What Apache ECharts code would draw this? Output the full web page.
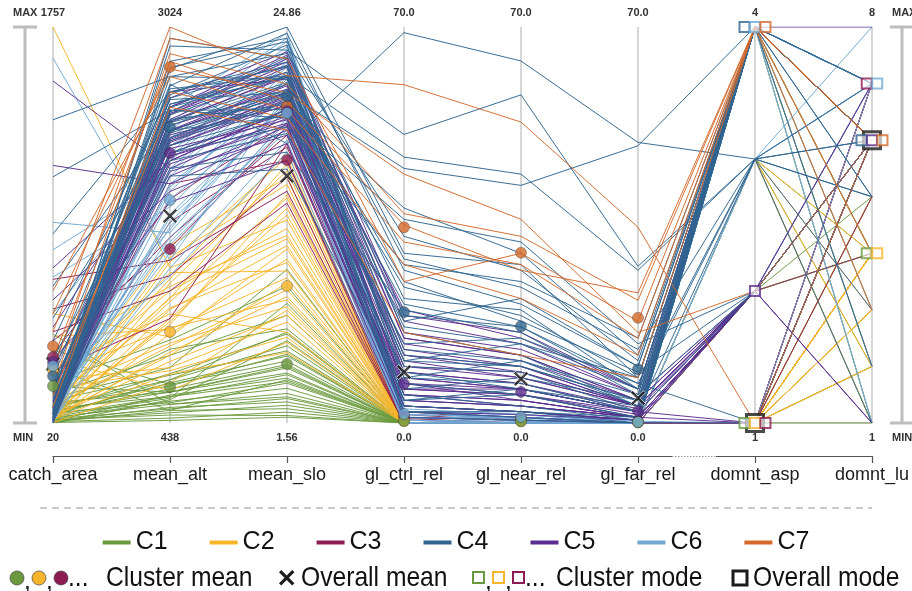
<!DOCTYPE html>
<html><head><meta charset="utf-8">
<script src="https://cdn.jsdelivr.net/npm/echarts@6/dist/echarts.min.js"></script>
<style>html,body{margin:0;padding:0;background:#fff}#c{width:912px;height:591px}</style>
</head><body><div id="c"></div>
<script>
// ---------- axes ----------
const dims = ['catch_area','mean_alt','mean_slo','gl_ctrl_rel','gl_near_rel','gl_far_rel','domnt_asp','domnt_lu'];
const axisMin = [20, 438, 1.56, 0, 0, 0, 1, 1];
const axisMax = [1757, 3024, 24.86, 70, 70, 70, 4, 8];
const maxLabels = ['1757','3024','24.86','70.0','70.0','70.0','4','8'];
const minLabels = ['20','438','1.56','0.0','0.0','0.0','1','1'];

// ---------- clusters ----------
const clusters = ['C1','C2','C3','C4','C5','C6','C7'];
const colors = ['#6b9a3e','#f7b52b','#8e1b52','#2f6590','#5b2d8f','#70aad4','#d4692b'];

// [catch_area, mean_alt, mean_slo, gl_ctrl_rel, gl_near_rel, gl_far_rel, domnt_asp, domnt_lu]
const c1Lines = [
 [45,560,3.1,0,0,0,1,4],[30,620,4.2,0,0,0,1,4],[60,700,5.5,0,0,0,1,2],[25,520,2.4,0,0,0,1,1],
 [80,760,6.8,0,0,0,4,4],[110,640,4.8,0,0,0,1,4],[40,580,3.6,0,0,0,2,5],[150,880,7.9,0,0,0,1,6],
 [35,490,2.0,0,0,0,1,4],[70,660,5.0,0,0,0,3,4],[200,980,9.6,0,0,0,4,3],[55,610,4.0,0,0,0,1,1],
 [90,720,6.1,0,0,0,1,4],[130,800,10.6,0,0,0,3,2],[22,455,1.9,0,0,0,1,3],[340,690,5.2,0,0,0,4,2],
 [75,640,4.5,0,0,0,1,4],[410,560,3.3,0,0,0,2,4],[48,600,8.6,0,0,0,1,5],[120,750,5.8,0,0,0,4,1],
 [28,540,2.8,0,0,0,1,4],[95,920,7.1,0,0,0,1,6],[260,520,4.1,0,0,0,1,4],[20,590,6.4,0,0,0,4,4],
 [32,505,2.6,0,0,0,1,4],[65,570,3.9,0,0,0,2,4],[100,680,5.6,0,0,0,1,2],[38,530,3.0,0,0,0,3,1],
 [85,610,4.4,0,0,0,1,4],[52,720,6.9,0,0,0,1,3],[180,640,4.9,0,0,0,4,4],[26,470,2.2,0,0,0,1,5]
];
const c2Lines = [
 [1757,1450,13.5,0,0,0,1,4],[60,1100,14.2,0,0,0,1,4],[40,900,9.0,0,0,0,4,2],[120,1250,16.8,0,0,0,1,4],
 [210,800,7.5,0,0,0,1,3],[30,1020,11.2,0,0,0,3,4],[90,1380,17.5,0,0,0,1,1],[300,650,6.3,0,0,0,2,4],
 [25,1180,12.0,0,0,0,1,4],[150,960,8.4,0,0,0,4,4],[70,1520,15.6,0,0,0,1,2],[400,1050,10.1,0,0,0,3,3],
 [35,760,5.7,0,0,0,1,4],[180,1300,13.0,0,0,0,1,6],[50,880,9.8,0,0,0,2,4],[260,1150,6.9,0,0,0,4,1],
 [110,1600,16.0,0,0,0,1,4],[45,840,7.9,0,0,0,3,2],[500,1000,11.8,0,0,0,1,4],[80,1230,14.8,0,0,0,1,3],
 [22,700,8.2,0,0,0,1,4],[140,1420,10.5,0,0,0,4,4],[330,1330,12.6,0,0,0,1,5],[65,1080,15.0,0,0,0,4,4],
 [42,1120,13.8,0,0,0,1,4],[95,940,9.4,0,0,0,1,2],[28,1350,16.4,0,0,0,4,4],[230,1060,8.8,0,0,0,1,4],
 [58,1260,12.4,0,0,0,3,1],[170,780,6.6,0,0,0,1,4],[38,1490,17.2,0,0,0,1,3],[125,1190,11.0,0,0,0,2,4]
];
const c3Lines = [
 [300,1650,18.5,0.5,0,0,1,7],[520,1400,16.0,0,0,0,1,7],[180,1900,19.2,1.5,0.3,0,4,7],[420,1300,14.5,0,0,0,1,6],
 [90,1750,17.8,2.0,0.5,0,1,7],[650,1500,15.2,0,0,0,2,7],[250,1120,18.0,0.8,0,0,1,5],[60,2000,17.0,0,0,0,4,7],
 [380,1580,19.0,0,0,0,1,7]
];
const c4Lines = [
 [150,2650,18.0,69,64,49.6,3,6],[90,2900,23.5,51,58,27.7,3,5],[220,2550,21.0,45,42,49,4,6],[60,2450,22.0,47,44,27,3,5],
 [300,2300,20.5,38,30,12,4,6],[45,2750,24.86,30,28,8,4,6],[120,2200,19.0,28,25,15,4,6],[80,2380,21.5,25,18,9,2,6],
 [850,2600,22.8,22,20,6,4,7],[35,2100,17.5,20,16,5,4,6],[180,2480,20.0,18,22,10,4,6],[60,2950,23.0,16,12,3,4,6],
 [260,2250,19.8,14,15,7,1,6],[40,2520,22.2,12,10,4,4,6],[480,2350,20.8,11,14,6,3,1],[100,2700,21.8,10,9,2,4,6],
 [30,2150,18.6,9,6,3,4,5],[620,2420,20.3,8,11,5,2,6],[70,2580,23.8,7,5,1,4,6],[140,2050,16.5,6,8,4,4,6],
 [25,2300,21.2,5,3,0.5,4,6],[1100,2480,19.5,4,6,2,3,3],[55,2800,24.2,3,2,1,4,6],[200,2200,20.0,2,1,0,1,6],
 [380,2600,22.5,1,0.5,0,4,6],[65,2400,21.0,24,19,8,4,2],[1350,2700,23.3,33,27,11,4,6],[170,2350,19.6,36,32,14,2,6],
 [95,2500,22.0,19,17,7,3,7],[42,2640,24.5,27,21,10,4,6],
 [48,2560,22.6,13,11,3,4,6],[130,2330,20.9,21,17,6,4,6],[36,2470,23.1,8,7,2,2,6],[270,2620,22.0,17,14,8,4,6],
 [58,2280,20.4,4,5,1,4,5],[85,2760,24.0,29,24,13,3,6],[22,2410,21.6,2,2,0,4,6],[160,2520,21.9,11,10,4,4,7]
];
const c5Lines = [
 [1520,2100,19.5,5,4,1,2,6],[1150,2000,18.8,3,2,0.5,4,6],[60,2300,21.0,12,10,3,2,6],[30,2250,20.5,8,6,2,4,6],
 [150,2400,22.0,15,12,4,2,1],[45,2050,19.0,6,5,1.5,4,8],[250,2350,21.5,10,8,3,2,6],[80,2150,20.0,4,3,1,2,6],
 [35,2500,22.8,18,14,5,4,6],[560,1950,18.0,2,1.5,0.5,2,4],[110,2280,20.8,7,5,2,4,6],[25,2450,23.0,9,7,2.5,2,6],
 [70,2600,21.8,20,15,6,4,6],[190,2200,19.8,3,2,0.5,2,6],[40,2380,21.2,11,8,3,2,6],[320,1880,17.0,1,0.5,0,1,6],
 [55,2320,20.2,5,4,1,4,6],[95,2180,19.2,14,11,4,2,6],[28,2420,22.5,6,6,2,2,6],[130,2080,18.5,4,3,1,4,6],
 [700,2150,20.0,2,1,0,2,6],[65,2500,23.2,16,13,5,2,6],[50,2270,20.6,8,6,2,1,6],[20,2350,21.0,10,9,3,2,6],
 [440,2230,19.4,7,4,1,2,7],[85,2460,22.2,13,10,3,4,6],
 [33,2290,20.7,9,7,2,2,6],[75,2410,21.9,12,9,3,4,6],[24,2180,19.6,5,3,1,2,6],[115,2340,21.4,7,6,2,2,6],
 [48,2470,22.6,15,12,4,4,6],[62,2130,19.1,3,2,0.5,2,1],[37,2560,23.4,19,16,6,4,6],[88,2250,20.3,6,5,1,1,6]
];
const c6Lines = [
 [1620,1500,21.0,0,0,0,4,7],[780,2050,22.0,2,1,0,4,7],[60,1800,20.5,1,0.5,0,4,7],[35,2200,23.5,3,2,0.5,4,1],
 [120,1650,19.0,0,0,0,3,7],[45,1950,21.8,1.5,1,0,4,7],[200,1400,17.5,0,0,0,1,1],[30,2400,24.0,4,3,1,4,7],
 [80,1750,20.0,0.5,0,0,4,3],[150,2100,22.5,2,1.5,0,4,7],[25,1600,18.8,0,0,0,3,8],[660,1850,21.2,1,0.5,0,4,7],
 [55,2300,23.0,3,2,0.5,2,7],[90,1550,19.5,0,0,0,4,6],[40,2000,20.8,1,1,0,4,7],[300,1700,22.0,2.5,1.5,0.3,1,7],
 [70,2250,21.5,0,0,0,4,2],[22,1900,20.2,1.5,1,0,4,7],[110,2500,24.5,2,1,0,3,7],[38,1450,18.2,0,0,0,4,7],
 [900,1680,20.6,0.5,0.3,0,4,7],[500,2150,22.8,1,0.8,0,4,4],
 [28,2080,22.2,1,0.5,0,4,7],[66,1780,20.0,0,0,0,4,7],[42,2350,23.7,2,1.5,0,4,6],[120,1620,19.3,0,0,0,3,7],
 [34,1980,21.0,1,0.5,0,4,7],[75,2450,24.2,3,2,0.5,4,1],[48,1720,20.4,0.5,0,0,2,7],[20,2180,22.6,1.5,1,0,4,7]
];
const c7Lines = [
 [420,3024,22.0,59.8,53.2,34.6,1,6],[180,2850,21.5,37,33,21.7,4,6],[600,2700,20.0,32,28,15,4,4],[90,2600,19.5,28,22,12,4,6],
 [250,2950,23.0,25,30,18,4,6],[500,2750,21.0,44,36,16,2,6],[140,2500,18.8,16,12,8,4,3],[300,2800,20.5,35,27,23,4,6]
];
const linesByCluster = [c1Lines,c2Lines,c3Lines,c4Lines,c5Lines,c6Lines,c7Lines];

// cluster means on the six numeric axes
const meanC1 = [182, 673, 5.03, 0.4, 0.3, 0.1];
const meanC2 = [253, 1033, 9.62, 0.3, 0.3, 0.1];
const meanC3 = [310, 1574, 17.03, 1.2, 0.9, 0.35];
const meanC4 = [226, 2370, 20.8, 19.6, 17.1, 9.5];
const meanC5 = [288, 2201, 19.9, 6.9, 5.5, 2.1];
const meanC6 = [270, 1894, 19.8, 1.6, 1.06, 0.18];
const meanC7 = [357, 2763, 20.2, 34.6, 30.1, 18.6];
const clusterMeans = [meanC1,meanC2,meanC3,meanC4,meanC5,meanC6,meanC7];
const overallMean = [279, 1790, 16.1, 9.0, 7.8, 4.4];

// cluster modes on the two categorical axes
const modeAsp = [1,1,1,4,2,4,4];
const modeLu = [4,4,7,6,6,7,6];
const overallMode = [1, 6];

// ---------- build ----------
const norm = (i, v) => (v - axisMin[i]) / (axisMax[i] - axisMin[i]);
const series = [];
const drawOrder = [0,1,2,5,4,3,6];
drawOrder.forEach(k => {
  linesByCluster[k].forEach(row => {
    series.push({
      type:'line', name:clusters[k], data:row.map((v,i)=>norm(i,v)),
      symbol:'none', silent:true, animation:false, z:2,
      lineStyle:{width:1, color:colors[k], opacity:0.95}, itemStyle:{color:colors[k]}
    });
  });
});
// overall mean X
const xPath = 'path://M0,2 L2,0 L7,5 L12,0 L14,2 L9,7 L14,12 L12,14 L7,9 L2,14 L0,12 L5,7 Z';
series.push({type:'scatter', name:'Overall mean', data:overallMean.map((v,i)=>[i,norm(i,v)]),
  symbol:xPath, symbolSize:15, itemStyle:{color:'#1b1b1b', borderColor:'#fff', borderWidth:0.8}, z:5, silent:true, animation:false});
// cluster means
[6,2,4,1,3,0,5].forEach(k => {
  series.push({type:'scatter', name:clusters[k]+' mean', data:clusterMeans[k].map((v,i)=>[i,norm(i,v)]),
    symbol:'circle', symbolSize:11, itemStyle:{color:colors[k], borderColor:'rgba(40,40,40,0.6)', borderWidth:0.7}, z:6, silent:true, animation:false});
});
// overall mode
series.push({type:'scatter', name:'Overall mode', data:[[6,norm(6,overallMode[0])],[7,norm(7,overallMode[1])]],
  symbol:'rect', symbolSize:17, itemStyle:{color:'#fff', borderColor:'#1b1b1b', borderWidth:3}, z:7, silent:true, animation:false});
// cluster modes with side-by-side offsets
function groupOffsets(modes){
  const off = [];
  const groups = {};
  modes.forEach((m,k)=>{(groups[m]=groups[m]||[]).push(k);});
  Object.values(groups).forEach(g=>g.forEach((k,j)=>{off[k]=(j-(g.length-1)/2)*10.5;}));
  return off;
}
const offA = groupOffsets(modeAsp), offL = groupOffsets(modeLu);
clusters.forEach((c,k)=>{
  series.push({type:'scatter', name:c+' mode', data:[
      {value:[6,norm(6,modeAsp[k])], symbolOffset:[offA[k],0]},
      {value:[7,norm(7,modeLu[k])], symbolOffset:[offL[k],0]}],
    symbol:'rect', symbolSize:10, itemStyle:{color:'rgba(255,255,255,0.8)', borderColor:colors[k], borderWidth:2}, z:8, silent:true, animation:false});
});

const FONT = 'Liberation Sans, Arial, sans-serif';
const lblFont = '28px "Liberation Sans", Arial, sans-serif';
const SX = 0.88;
const gray = '#bdbdbd';
function xPoly(x0, y0, s){
  const p = [[0,2],[2,0],[7,5],[12,0],[14,2],[9,7],[14,12],[12,14],[7,9],[2,14],[0,12],[5,7]];
  return p.map(q=>[q[0]*s+x0, q[1]*s+y0]);
}
function txt(x, y, t){
  return {type:'text', x:x, y:y, scaleX:SX, originX:0,
    style:{text:t, font:lblFont, fill:'#111', verticalAlign:'middle'}};
}
const graphic = [
  // left bracket
  {type:'line', shape:{x1:25,y1:27,x2:25,y2:423}, style:{stroke:gray, lineWidth:3}},
  {type:'line', shape:{x1:13,y1:27,x2:37,y2:27}, style:{stroke:gray, lineWidth:3}},
  {type:'line', shape:{x1:13,y1:423,x2:37,y2:423}, style:{stroke:gray, lineWidth:3}},
  // right bracket
  {type:'line', shape:{x1:902,y1:27,x2:902,y2:423}, style:{stroke:gray, lineWidth:3}},
  {type:'line', shape:{x1:890,y1:27,x2:914,y2:27}, style:{stroke:gray, lineWidth:3}},
  {type:'line', shape:{x1:890,y1:423,x2:914,y2:423}, style:{stroke:gray, lineWidth:3}},
  {type:'text', x:13, y:13, style:{text:'MAX', font:'bold 11px '+FONT, fill:'#333', verticalAlign:'middle'}},
  {type:'text', x:13, y:438, style:{text:'MIN', font:'bold 11px '+FONT, fill:'#333', verticalAlign:'middle'}},
  {type:'text', x:892, y:13, style:{text:'MAX', font:'bold 11px '+FONT, fill:'#333', verticalAlign:'middle'}},
  {type:'text', x:892, y:438, style:{text:'MIN', font:'bold 11px '+FONT, fill:'#333', verticalAlign:'middle'}},
  // dotted break on the bottom axis
  {type:'rect', shape:{x:672,y:454,width:44,height:5}, style:{fill:'#fff'}, z:100},
  {type:'line', shape:{x1:672,y1:456.5,x2:716,y2:456.5}, style:{stroke:'#999', lineWidth:1, lineDash:[1.5,1.5]}, z:101},
  // dashed separator
  {type:'line', shape:{x1:40,y1:508,x2:872,y2:508}, style:{stroke:'#bbb', lineWidth:1.5, lineDash:[7,5]}},
  // second legend row
  {type:'circle', shape:{cx:17,cy:578,r:7}, style:{fill:colors[0], stroke:'#444', lineWidth:0.7}},
  txt(24, 581, ','),
  {type:'circle', shape:{cx:39,cy:578,r:7}, style:{fill:colors[1], stroke:'#444', lineWidth:0.7}},
  txt(46, 581, ','),
  {type:'circle', shape:{cx:61,cy:578,r:7}, style:{fill:colors[2], stroke:'#444', lineWidth:0.7}},
  txt(68, 578, '...'),
  txt(106, 578, 'Cluster mean'),
  {type:'polygon', shape:{points:xPoly(279,570,1.1)}, style:{fill:'#1b1b1b'}},
  txt(301, 578, 'Overall mean'),
  {type:'rect', shape:{x:473,y:572,width:11,height:11}, style:{fill:'#fff', stroke:colors[0], lineWidth:2}},
  txt(485, 581, ','),
  {type:'rect', shape:{x:493,y:572,width:11,height:11}, style:{fill:'#fff', stroke:colors[1], lineWidth:2}},
  txt(505, 581, ','),
  {type:'rect', shape:{x:513,y:572,width:11,height:11}, style:{fill:'#fff', stroke:colors[2], lineWidth:2}},
  txt(525, 578, '...'),
  txt(556, 578, 'Cluster mode'),
  {type:'rect', shape:{x:733,y:571,width:14,height:14}, style:{fill:'#fff', stroke:'#1b1b1b', lineWidth:3}},
  txt(753, 578, 'Overall mode')
];

const chart = echarts.init(document.getElementById('c'), null, {renderer:'canvas'});
chart.setOption({
  animation:false,
  backgroundColor:'#fff',
  grid:{left:53, right:39, top:27, bottom:168, containLabel:false},
  xAxis:[
    {type:'category', data:dims, boundaryGap:false, position:'bottom', offset:33,
     axisLine:{show:true, onZero:false, lineStyle:{color:'#555', width:1.2}},
     axisTick:{show:true, length:7, lineStyle:{color:'#555', width:1.2}},
     axisLabel:{interval:0, fontSize:18, color:'#1a1a1a', margin:10, fontFamily:FONT},
     splitLine:{show:true, lineStyle:{color:'#c8c8c8', width:1.5}}},
    {type:'category', data:maxLabels, boundaryGap:false, position:'top',
     axisLine:{show:false, onZero:false}, axisTick:{show:false}, splitLine:{show:false},
     axisLabel:{interval:0, fontSize:11, fontWeight:'bold', color:'#333', margin:9, fontFamily:FONT}},
    {type:'category', data:minLabels, boundaryGap:false, position:'bottom', offset:0,
     axisLine:{show:false, onZero:false}, axisTick:{show:false}, splitLine:{show:false},
     axisLabel:{interval:0, fontSize:11, fontWeight:'bold', color:'#333', margin:9, fontFamily:FONT}}
  ],
  yAxis:{type:'value', min:0, max:1, show:false},
  legend:{data:clusters, left:'center', top:525, icon:'rect', itemWidth:28, itemHeight:4, itemGap:42,
    textStyle:{fontSize:25, color:'#111', fontFamily:FONT},
    selectedMode:false},
  graphic:graphic,
  series:series
});
</script></body></html>
